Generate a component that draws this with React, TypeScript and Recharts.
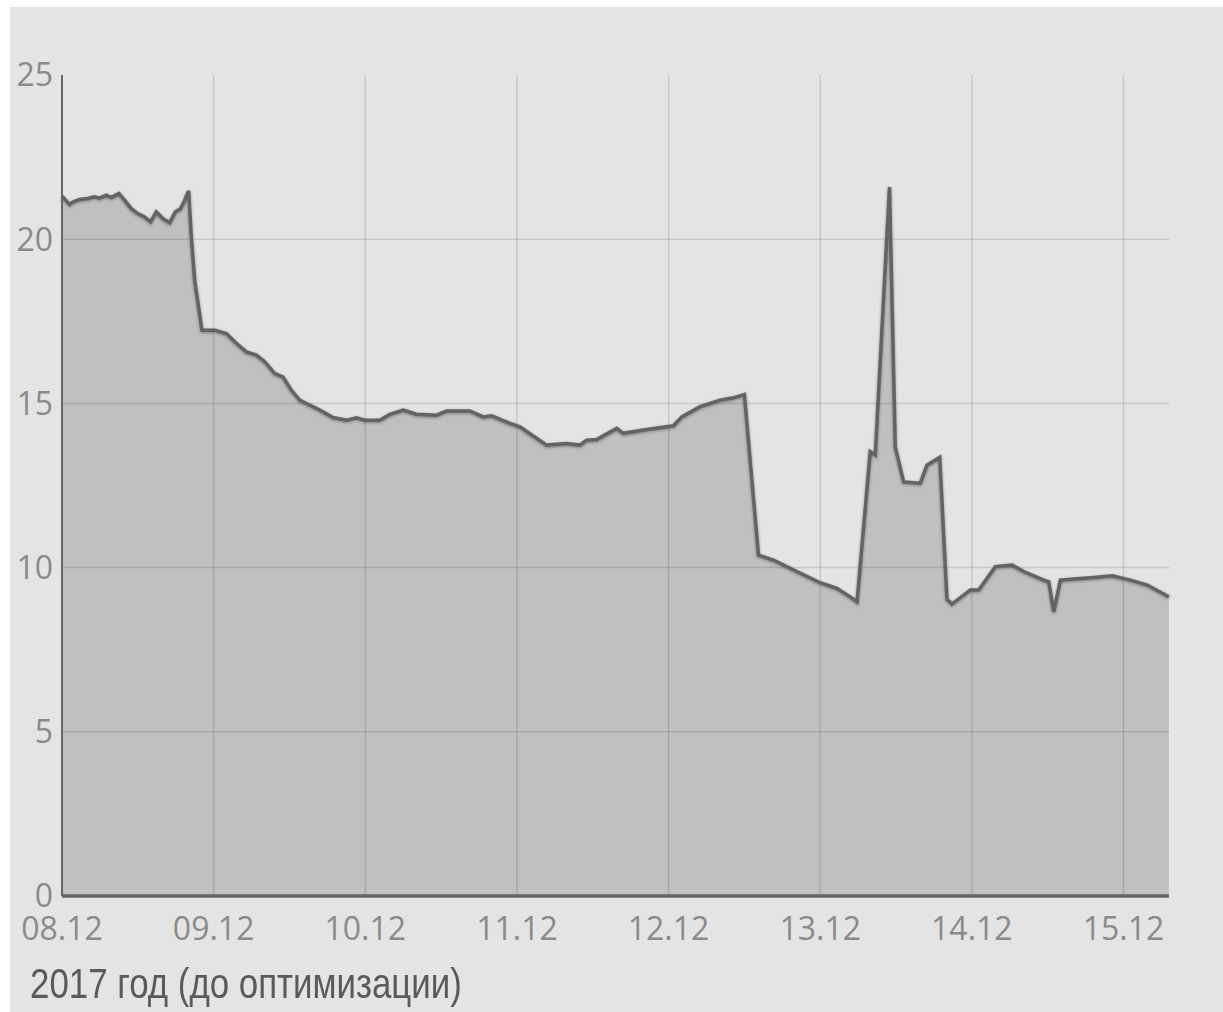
import React from "react";
import { AreaChart, Area, XAxis, YAxis, CartesianGrid } from "recharts";

// x = days since 08.12, y = value
const days = [
  0, 0.05, 0.071, 0.116, 0.17, 0.215, 0.248, 0.292, 0.325, 0.375, 0.413, 0.457, 0.5, 0.545,
  0.584, 0.622, 0.665, 0.71, 0.747, 0.782, 0.804, 0.835, 0.853, 0.875, 0.923, 1.007, 1.084,
  1.15, 1.216, 1.282, 1.337, 1.403, 1.457, 1.513, 1.568, 1.589, 1.7, 1.787, 1.876, 1.942,
  1.997, 2.096, 2.162, 2.25, 2.338, 2.47, 2.536, 2.69, 2.778, 2.833, 2.954, 3.02, 3.196,
  3.328, 3.416, 3.46, 3.526, 3.658, 3.702, 3.834, 4.032, 4.087, 4.208, 4.34, 4.428, 4.5,
  4.593, 4.692, 4.846, 5.0, 5.11, 5.198, 5.243, 5.33, 5.363, 5.457, 5.495, 5.55, 5.66,
  5.704, 5.788, 5.836, 5.869, 5.99, 6.045, 6.155, 6.265, 6.342, 6.474, 6.507, 6.54, 6.584,
  6.672, 6.804, 6.926, 7.046, 7.157, 7.299,
];

const values = [
  21.31, 21.06, 21.13, 21.21, 21.24, 21.29, 21.25, 21.34, 21.27, 21.39, 21.19, 20.93, 20.78,
  20.68, 20.53, 20.83, 20.63, 20.5, 20.83, 20.93, 21.13, 21.47, 20.07, 18.75, 17.23, 17.23,
  17.13, 16.83, 16.57, 16.47, 16.27, 15.91, 15.81, 15.4, 15.1, 15.05, 14.8, 14.57, 14.49,
  14.56, 14.49, 14.49, 14.67, 14.8, 14.67, 14.64, 14.77, 14.77, 14.59, 14.62, 14.39, 14.29,
  13.73, 13.78, 13.73, 13.88, 13.9, 14.24, 14.09, 14.19, 14.32, 14.59, 14.9, 15.1, 15.17,
  15.27, 10.38, 10.23, 9.88, 9.54, 9.37, 9.11, 8.96, 13.53, 13.43, 21.59, 13.67, 12.61,
  12.57, 13.12, 13.36, 9.04, 8.89, 9.32, 9.32, 10.03, 10.08, 9.88, 9.62, 9.57, 8.66, 9.62,
  9.65, 9.7, 9.75, 9.62, 9.47, 9.11,
];

const dayLabels = ["08.12", "09.12", "10.12", "11.12", "12.12", "13.12", "14.12", "15.12"];
const dayTicks = [0, 1, 2, 3, 4, 5, 6, 7];
const valueTicks = [0, 5, 10, 15, 20, 25];
const gridValues = [5, 10, 15, 20];

const title = "2017 год (до оптимизации)";

const data = days.map((d, i) => ({ day: d, value: values[i] }));

const tickStyle = { fontFamily: "'Open Sans', sans-serif", fontSize: 32, fill: "#8a8a8a" };

export default function App() {
  return (
    <div
      style={{
        position: "absolute",
        left: 10,
        top: 7,
        width: 1213,
        height: 1005,
        background: "#e4e4e4",
      }}
    >
      <style>{`.recharts-area-curve { filter: drop-shadow(0px 1.5px 1.5px rgba(0,0,0,0.35)); }`}</style>
      <AreaChart
        width={1213}
        height={949}
        data={data}
        margin={{ top: 68, right: 54, bottom: 0, left: 0 }}
      >
        <CartesianGrid
          stroke="#000"
          strokeOpacity={0.12}
          strokeWidth={1.5}
          horizontalValues={gridValues}
          verticalValues={dayTicks}
        />
        <XAxis
          dataKey="day"
          type="number"
          domain={[0, 7.3]}
          ticks={dayTicks}
          tickFormatter={(v) => dayLabels[v] ?? ""}
          interval={0}
          height={60}
          tickLine={false}
          tickSize={0}
          tickMargin={21}
          axisLine={{ stroke: "#666", strokeWidth: 3.5 }}
          tick={tickStyle}
        />
        <YAxis
          type="number"
          domain={[0, 25]}
          ticks={valueTicks}
          width={52}
          tickLine={false}
          tickSize={0}
          tickMargin={9}
          axisLine={{ stroke: "#666", strokeWidth: 2 }}
          tick={tickStyle}
        />
        <Area
          type="linear"
          dataKey="value"
          stroke="#636363"
          strokeWidth={3.5}
          fill="#000"
          fillOpacity={0.158}
          isAnimationActive={false}
          dot={false}
          activeDot={false}
        />
      </AreaChart>
      <div
        style={{
          position: "absolute",
          left: 20,
          top: 956,
          fontFamily: "'Liberation Sans', Arial, sans-serif",
          fontSize: 42,
          lineHeight: 1,
          color: "#5a5a5a",
          whiteSpace: "nowrap",
          transform: "scaleX(0.83)",
          transformOrigin: "left top",
        }}
      >
        {title}
      </div>
    </div>
  );
}
